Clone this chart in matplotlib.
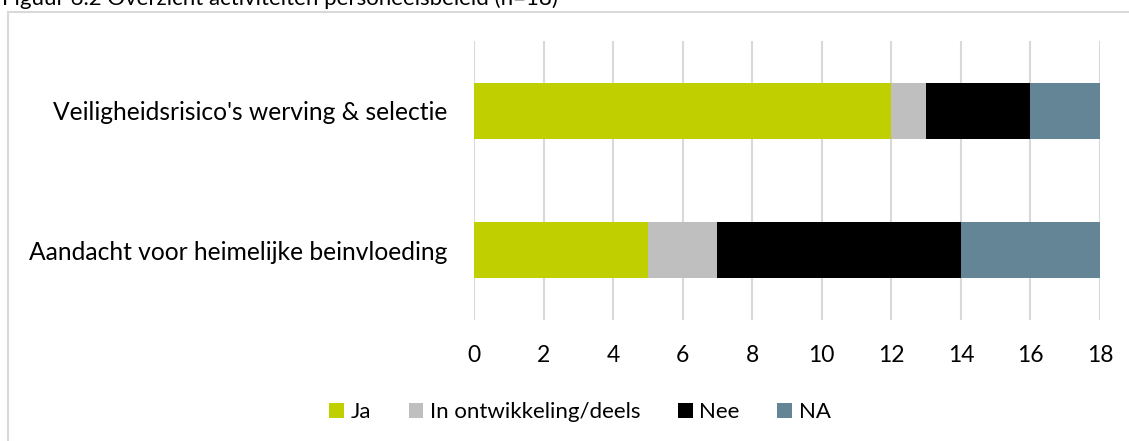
# Overzicht activiteiten personeelsbeleid - horizontale gestapelde staafgrafiek
import numpy as np
import matplotlib
matplotlib.use('Agg')
import matplotlib.pyplot as plt
from matplotlib.patches import Rectangle, Patch

plt.rcParams['font.family'] = ['Lato', 'DejaVu Sans']

# data
categories = ["Aandacht voor heimelijke beinvloeding", "Veiligheidsrisico's werving & selectie"]
series_names = ['Ja', 'In ontwikkeling/deels', 'Nee', 'NA']
ja = [5, 12]
deels = [2, 1]
nee = [7, 3]
na = [4, 2]
colors = ['#c0cf00', '#bfbfbf', '#000000', '#638596']
xticks = [0, 2, 4, 6, 8, 10, 12, 14, 16, 18]

fig = plt.figure(figsize=(11.29, 4.41), dpi=100)
ax = fig.add_axes([474 / 1129, 1 - 320 / 441, 626 / 1129, 279 / 441])

# frame around the chart (continues past the image edge)
fig.patches.append(Rectangle((8 / 1129, -0.1), 1.2, 1 - 12 / 441 + 0.1,
                             transform=fig.transFigure, fill=False,
                             edgecolor='#d9d9d9', linewidth=1.5))

# caption on top, cut off by the image edge as in the source
fig.text(2 / 1129, 1 - 5 / 441, "Figuur 6.2 Overzicht activiteiten personeelsbeleid (n=18)",
         fontsize=16, va='baseline', ha='left', color='#000000')

y = np.arange(len(categories))
left = np.zeros(len(categories))
for name, vals, col in zip(series_names, [ja, deels, nee, na], colors):
    ax.barh(y, vals, left=left, height=0.4, color=col, label=name, zorder=3)
    left += np.array(vals)

ax.set_xlim(0, 18)
ax.set_ylim(-0.5, 1.5)
ax.set_xticks(xticks)
ax.set_yticks(y)
ax.set_yticklabels(categories, fontsize=17.7)
ax.tick_params(axis='x', labelsize=16.5, length=0, pad=18)
ax.tick_params(axis='y', length=0, pad=19)
ax.grid(axis='x', color='#d9d9d9', linewidth=1.5, zorder=0)
for s in ax.spines.values():
    s.set_visible(False)

handles = [Patch(facecolor=c, label=n) for n, c in zip(series_names, colors)]
fig.legend(handles=handles, loc='center', bbox_to_anchor=(580 / 1129, 1 - 412 / 441),
           ncol=4, frameon=False, fontsize=16, handlelength=0.65, handleheight=0.65,
           handletextpad=0.3, columnspacing=1.7)

plt.savefig('out.png', dpi=100)
